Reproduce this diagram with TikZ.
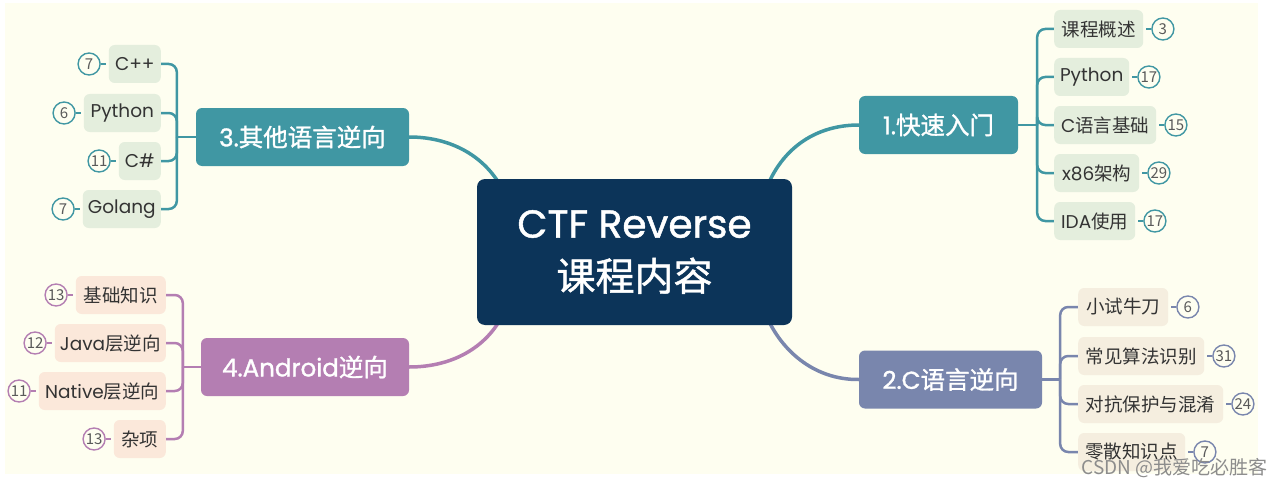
\documentclass[tikz,border=0pt]{standalone}
\usepackage{fontspec}
\setmainfont{Poppins}
\newfontfamily\cjk{Noto Sans CJK SC}
\newfontfamily\latb{Poppins}[FakeBold=1.2]
\newfontfamily\cjkb{Noto Sans CJK SC}[FakeBold=1.2]
\usetikzlibrary{backgrounds,calc}
\definecolor{cream}{HTML}{FEFEF0}
\definecolor{navy}{HTML}{0C3459}
\definecolor{teal}{HTML}{4097A3}
\definecolor{purp}{HTML}{B47EB2}
\definecolor{slate}{HTML}{7986AD}
\definecolor{greenf}{HTML}{E4EEDD}
\definecolor{beigef}{HTML}{F5EEDF}
\definecolor{peachf}{HTML}{FBE8DA}
\definecolor{textc}{HTML}{333333}
\definecolor{numc}{HTML}{5A5A5A}
\definecolor{wmc}{HTML}{8C8C8C}
\begin{document}
\begin{tikzpicture}[x=1pt,y=-1pt,
  root/.style={fill=navy, text=white, rounded corners=8pt, minimum width=315pt, minimum height=146pt, align=center, inner sep=0pt, font=\latb\fontsize{39}{53}\selectfont},
  topic/.style={rounded corners=6pt, text=white, minimum height=58pt, inner sep=0pt, font=\latb\fontsize{24.5}{28}\selectfont},
  sub/.style={rounded corners=6pt, text=textc, minimum height=38pt, inner sep=0pt, font=\fontsize{18.5}{22}\selectfont},
  badge/.style={circle, draw, line width=1.4pt, fill=cream, minimum size=22pt, inner sep=0pt, text=numc, font=\cjk\fontsize{15}{15}\selectfont},
  link/.style={line width=3.5pt},
  bracket/.style={line width=2.5pt, rounded corners=8pt},
  stub/.style={line width=1.4pt}
]
\useasboundingbox (0,0) rectangle (1283,487);

% root and topics
\node[root] (c) at (634.5,252) {CTF Reverse\\{\cjkb 课程内容}};
\node[topic, fill=teal, minimum width=159pt] (n1) at (938.5,125) {1.{\cjkb 快速入门}};
\node[topic, fill=slate, minimum width=183pt] (n2) at (950.5,379.5) {2.C{\cjkb 语言逆向}};
\node[topic, fill=teal, minimum width=213pt] (n3) at (302.5,137) {3.{\cjkb 其他语言逆向}};
\node[topic, fill=purp, minimum width=208pt] (n4) at (305,367) {4.Android{\cjkb 逆向}};

% children of 1
\node[sub, fill=greenf, minimum width=89pt, anchor=west] (a1) at (1054,29) {\cjk 课程概述};
\node[sub, fill=greenf, minimum width=75pt, anchor=west] (a2) at (1054,77) {Python};
\node[sub, fill=greenf, minimum width=102pt, anchor=west] (a3) at (1054,125) {C{\cjk 语言基础}};
\node[sub, fill=greenf, minimum width=85pt, anchor=west] (a4) at (1054,173) {x86{\cjk 架构}};
\node[sub, fill=greenf, minimum width=81pt, anchor=west] (a5) at (1054,221) {IDA{\cjk 使用}};
\node[badge, draw=teal] (a1b) at ($(a1.east)+(19.5,0)$) {3};
\node[badge, draw=teal] (a2b) at ($(a2.east)+(19.5,0)$) {17};
\node[badge, draw=teal] (a3b) at ($(a3.east)+(19.5,0)$) {15};
\node[badge, draw=teal] (a4b) at ($(a4.east)+(19.5,0)$) {29};
\node[badge, draw=teal] (a5b) at ($(a5.east)+(19.5,0)$) {17};

% children of 2
\node[sub, fill=beigef, minimum width=90pt, anchor=west] (b1) at (1078,307) {\cjk 小试牛刀};
\node[sub, fill=beigef, minimum width=126pt, anchor=west] (b2) at (1078,356) {\cjk 常见算法识别};
\node[sub, fill=beigef, minimum width=145pt, anchor=west] (b3) at (1078,404) {\cjk 对抗保护与混淆};
\node[sub, fill=beigef, minimum width=107pt, anchor=west] (b4) at (1078,452) {\cjk 零散知识点};
\node[badge, draw=slate] (b1b) at ($(b1.east)+(19.5,0)$) {6};
\node[badge, draw=slate] (b2b) at ($(b2.east)+(19.5,0)$) {31};
\node[badge, draw=slate] (b3b) at ($(b3.east)+(19.5,0)$) {24};
\node[badge, draw=slate] (b4b) at ($(b4.east)+(19.5,0)$) {7};

% children of 3
\node[sub, fill=greenf, minimum width=52pt, anchor=east] (c1) at (161,64) {C++};
\node[sub, fill=greenf, minimum width=77pt, anchor=east] (c2) at (161,113) {Python};
\node[sub, fill=greenf, minimum width=42pt, anchor=east] (c3) at (161,161) {C\#};
\node[sub, fill=greenf, minimum width=78pt, anchor=east] (c4) at (161,209) {Golang};
\node[badge, draw=teal] (c1b) at ($(c1.west)+(-19.5,0)$) {7};
\node[badge, draw=teal] (c2b) at ($(c2.west)+(-19.5,0)$) {6};
\node[badge, draw=teal] (c3b) at ($(c3.west)+(-19.5,0)$) {11};
\node[badge, draw=teal] (c4b) at ($(c4.west)+(-19.5,0)$) {7};

% children of 4
\node[sub, fill=peachf, minimum width=90pt, anchor=east] (d1) at (166,295) {\cjk 基础知识};
\node[sub, fill=peachf, minimum width=111pt, anchor=east] (d2) at (166,343) {Java{\cjk 层逆向}};
\node[sub, fill=peachf, minimum width=127pt, anchor=east] (d3) at (166,391) {Native{\cjk 层逆向}};
\node[sub, fill=peachf, minimum width=52pt, anchor=east] (d4) at (166,439) {\cjk 杂项};
\node[badge, draw=purp] (d1b) at ($(d1.west)+(-19.5,0)$) {13};
\node[badge, draw=purp] (d2b) at ($(d2.west)+(-19.5,0)$) {12};
\node[badge, draw=purp] (d3b) at ($(d3.west)+(-19.5,0)$) {11};
\node[badge, draw=purp] (d4b) at ($(d4.west)+(-19.5,0)$) {13};

\node[anchor=east, text=wmc, inner sep=0pt, font=\cjk\fontsize{19}{19}\selectfont] (wm) at (1268,468) {CSDN @我爱吃必胜客};

\begin{scope}[on background layer]
\fill[white] (0,0) rectangle (1283,487);
\fill[cream] (5,3) rectangle (1258,474);
% main curves
\draw[link, teal] (n1.west) .. controls (814,125) and (779,150) .. (764,195);
\draw[link, teal] (n3.east) .. controls (455,137) and (490,160) .. (505,195);
\draw[link, purp] (n4.east) .. controls (455,367) and (490,345) .. (505,310);
\draw[link, slate] (n2.west) .. controls (814,380) and (779,350) .. (764,310);
% brackets
\draw[bracket, teal] (n1.east) -- ++(19,0) coordinate (j1);
\foreach \k in {a1,a2,a3,a4,a5} \draw[bracket, teal] (j1) |- (\k.west);
\draw[bracket, slate] (n2.east) -- ++(18,0) coordinate (j2);
\foreach \k in {b1,b2,b3,b4} \draw[bracket, slate] (j2) |- (\k.west);
\draw[bracket, teal] (n3.west) -- ++(-19,0) coordinate (j3);
\foreach \k in {c1,c2,c3,c4} \draw[bracket, teal] (j3) |- (\k.east);
\draw[bracket, purp] (n4.west) -- ++(-18,0) coordinate (j4);
\foreach \k in {d1,d2,d3,d4} \draw[bracket, purp] (j4) |- (\k.east);
% badge stubs
\foreach \k in {a1,a2,a3,a4,a5} \draw[stub, teal] ([xshift=3pt]\k.east) -- (\k b.west);
\foreach \k in {b1,b2,b3,b4} \draw[stub, slate] ([xshift=3pt]\k.east) -- (\k b.west);
\foreach \k in {c1,c2,c3,c4} \draw[stub, teal] ([xshift=-3pt]\k.west) -- (\k b.east);
\foreach \k in {d1,d2,d3,d4} \draw[stub, purp] ([xshift=-3pt]\k.west) -- (\k b.east);
\end{scope}
\end{tikzpicture}
\end{document}
